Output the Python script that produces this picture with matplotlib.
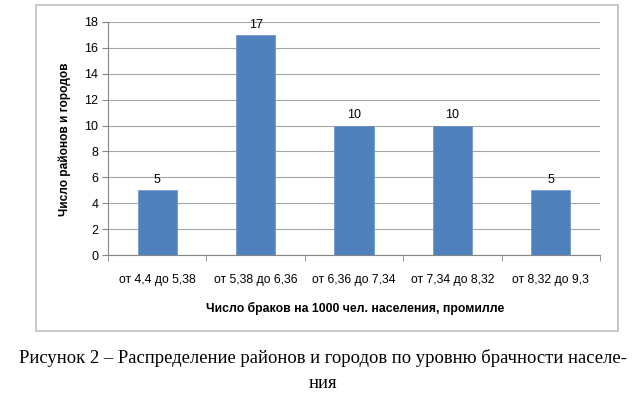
import matplotlib
matplotlib.use("Agg")
import matplotlib.pyplot as plt
from matplotlib.patches import Rectangle

categories = ["от 4,4 до 5,38", "от 5,38 до 6,36", "от 6,36 до 7,34", "от 7,34 до 8,32", "от 8,32 до 9,3"]
counts = [5, 17, 10, 10, 5]
yticks = [0, 2, 4, 6, 8, 10, 12, 14, 16, 18]
xlabel = "Число браков на 1000 чел. населения, промилле"
ylabel = "Число районов и городов"
caption1 = "Рисунок 2 – Распределение районов и городов по уровню брачности населе-"
caption2 = "ния"

plt.rcParams['font.family'] = ['Liberation Sans', 'DejaVu Sans']
fig = plt.figure(figsize=(6.4, 3.99), dpi=100)
W, H = 640, 399

def fx(px):
    return px / W

def fy(py):
    return 1 - py / H

# outer chart border
fig.patches.append(Rectangle((fx(36), fy(331)), fx(618) - fx(36), fy(5) - fy(331),
                             transform=fig.transFigure, fill=False,
                             edgecolor='#BFBFBF', linewidth=1.2))

ax = fig.add_axes([fx(108), fy(255), fx(600) - fx(108), fy(22) - fy(255)])
x = list(range(len(categories)))
bars = ax.bar(x, counts, width=0.4, color='#4F81BD', edgecolor='#6A93C8', linewidth=0.5, zorder=3)
ax.set_xlim(-0.5, len(categories) - 0.5)
ax.set_ylim(0, 18)
ax.set_yticks(yticks)
ax.set_yticklabels([str(v) for v in yticks], fontsize=9)
ax.yaxis.grid(True, color='#A6A6A6', linewidth=0.8, zorder=0)
ax.set_axisbelow(True)
ax.set_xticks(x)
ax.set_xticklabels(categories, fontsize=8.8)
ax.tick_params(axis='x', length=0, pad=14)
ax.set_xticks([i + 0.5 for i in range(-1, len(categories))], minor=True)
ax.tick_params(axis='x', which='minor', length=4, color='#868686', direction='out')
ax.tick_params(axis='y', length=4, color='#868686', direction='out', pad=3)
for s in ['top', 'right']:
    ax.spines[s].set_visible(False)
ax.spines['left'].set_color('#868686')
ax.spines['bottom'].set_color('#868686')

for b, v in zip(bars, counts):
    ax.annotate(str(v), (b.get_x() + b.get_width() / 2, v), xytext=(0, 3),
                textcoords='offset points', ha='center', va='bottom', fontsize=9)

fig.text(fx(355), fy(308), xlabel, ha='center', va='center', fontsize=8.8, fontweight='bold')
fig.text(fx(65), fy(139), ylabel, ha='center', va='center', rotation=90, fontsize=8.6, fontweight='bold')

fig.text(fx(323), fy(358), caption1, ha='center', va='center', fontsize=13.4,
         family=['Liberation Serif', 'DejaVu Serif'])
fig.text(fx(323), fy(384), caption2, ha='center', va='center', fontsize=13.4,
         family=['Liberation Serif', 'DejaVu Serif'])

fig.savefig("out.png", dpi=100)
